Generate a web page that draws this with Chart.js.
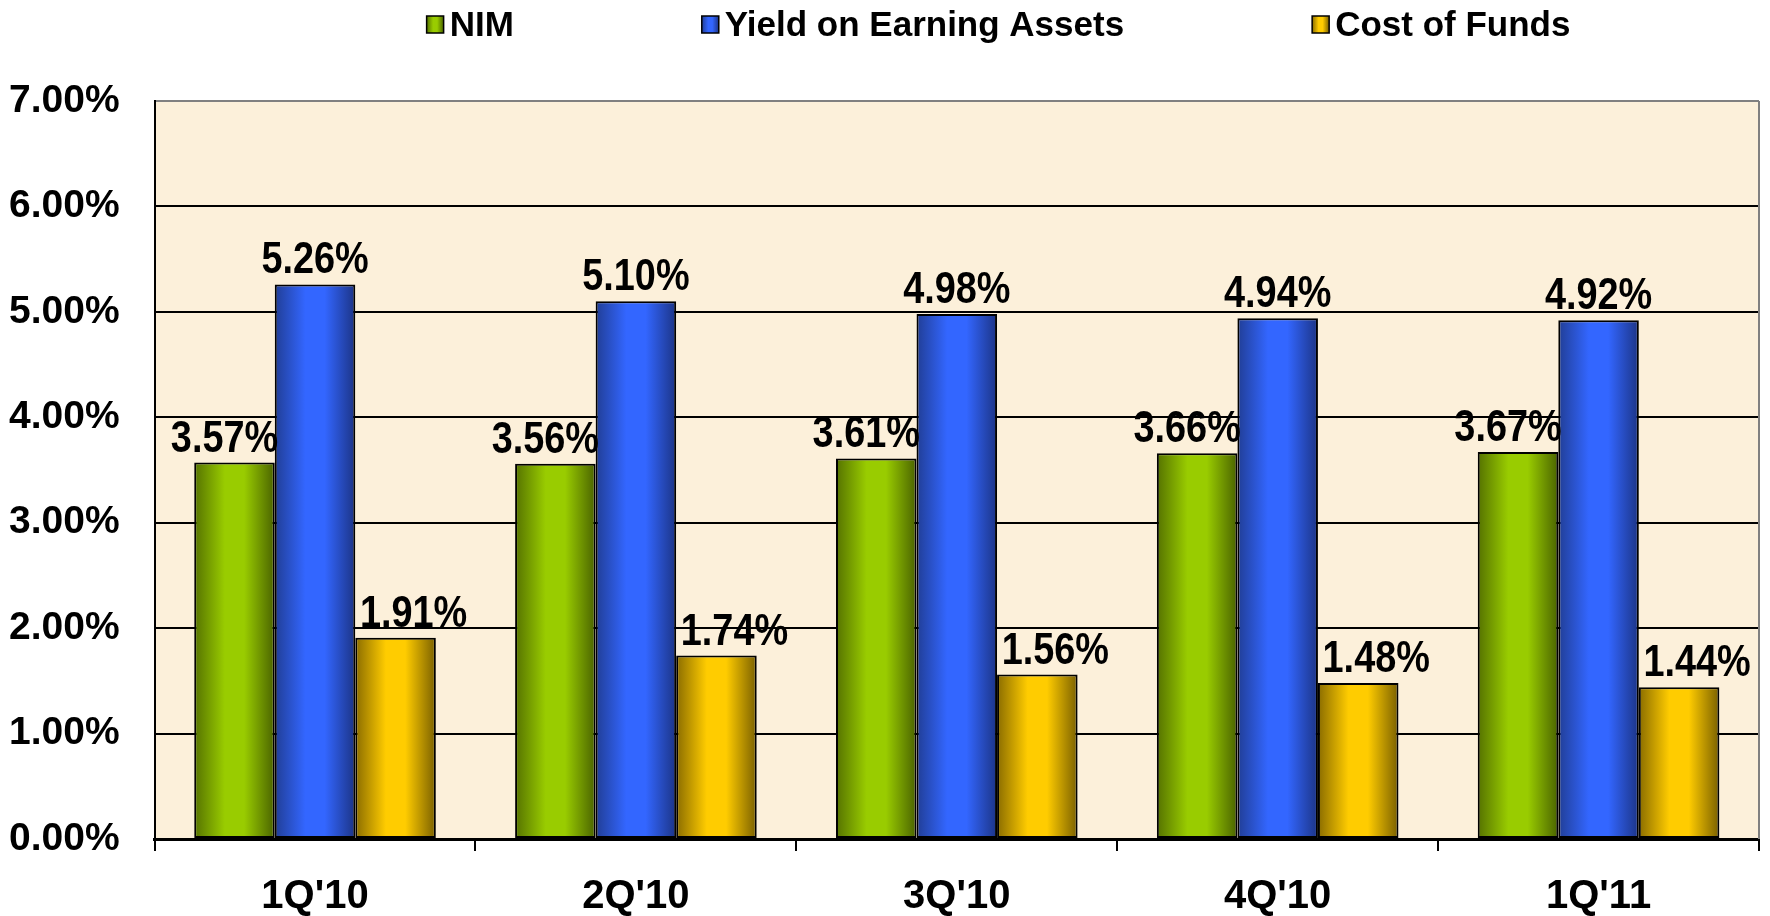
<!DOCTYPE html>
<html>
<head>
<meta charset="utf-8">
<script src="https://cdn.jsdelivr.net/npm/chart.js@4.4.1/dist/chart.umd.min.js"></script>
<style>
  html, body { margin: 0; padding: 0; background: #fff; }
  #wrap { width: 1770px; height: 916px; position: relative; }
</style>
</head>
<body>
<div id="wrap"><canvas id="myChart"></canvas></div>
<script>
const quarters = ["1Q'10", "2Q'10", "3Q'10", "4Q'10", "1Q'11"];
const nim = [3.57, 3.56, 3.61, 3.66, 3.67];
const yieldAssets = [5.26, 5.10, 4.98, 4.94, 4.92];
const costFunds = [1.91, 1.74, 1.56, 1.48, 1.44];
const seriesNames = ['NIM', 'Yield on Earning Assets', 'Cost of Funds'];

const FONT = "'Liberation Sans', Arial, sans-serif";

// bright / dark tones for the cylinder-like shading of each series
const shades = [
  { bright: '#99CC00', dark: '#4A6300', edge: '#557200' },
  { bright: '#3366FF', dark: '#1C3486', edge: '#213E96' },
  { bright: '#FFCC00', dark: '#7A6000', edge: '#8A6C00' },
];

function barGradient(ctx, x0, x1, s) {
  const g = ctx.createLinearGradient(x0, 0, x1, 0);
  g.addColorStop(0, s.edge);
  g.addColorStop(0.38, s.bright);
  g.addColorStop(0.62, s.bright);
  g.addColorStop(1, s.dark);
  return g;
}

// plot area background + right border
const plotBack = {
  id: 'plotBack',
  beforeDraw(chart) {
    const { ctx, chartArea: a } = chart;
    ctx.save();
    ctx.fillStyle = '#FCF0DA';
    ctx.fillRect(a.left, a.top, a.right - a.left, a.bottom - a.top);
    ctx.restore();
  },
  afterDraw(chart) {
    const { ctx, chartArea: a } = chart;
    ctx.save();
    ctx.strokeStyle = '#808080';
    ctx.lineWidth = 2;
    ctx.beginPath();
    ctx.moveTo(a.right, a.top);
    ctx.lineTo(a.right, a.bottom);
    ctx.stroke();
    ctx.restore();
  }
};

// horizontal shading on every bar
const shading = {
  id: 'shading',
  beforeDatasetsDraw(chart) {
    const ctx = chart.ctx;
    chart.data.datasets.forEach((ds, i) => {
      chart.getDatasetMeta(i).data.forEach(el => {
        const g = barGradient(ctx, el.x - el.width / 2, el.x + el.width / 2, shades[i]);
        el.options = Object.assign({}, el.options, { backgroundColor: g });
      });
    });
  }
};

// value labels above the bars
const valueLabels = {
  id: 'valueLabels',
  afterDatasetsDraw(chart, args, opts) {
    const ctx = chart.ctx;
    ctx.save();
    ctx.fillStyle = '#000';
    ctx.font = 'bold 44px ' + FONT;
    ctx.textAlign = 'center';
    ctx.textBaseline = 'alphabetic';
    chart.data.datasets.forEach((ds, i) => {
      chart.getDatasetMeta(i).data.forEach((el, j) => {
        ctx.save();
        ctx.translate(el.x + opts.shift[i], el.y - 11);
        ctx.scale(0.86, 1);
        ctx.fillText(ds.data[j].toFixed(2) + '%', 0, 0);
        ctx.restore();
      });
    });
    ctx.restore();
  }
};

// legend row at the top
const topLegend = {
  id: 'topLegend',
  afterDraw(chart) {
    const { ctx, chartArea: a } = chart;
    const box = 17, gapText = 6, gapItem = 188;
    ctx.save();
    ctx.font = 'bold 35px ' + FONT;
    ctx.textBaseline = 'alphabetic';
    ctx.textAlign = 'left';
    const widths = chart.data.datasets.map(ds => box + gapText + ctx.measureText(ds.label).width);
    const total = widths.reduce((s, w) => s + w, 0) + gapItem * (widths.length - 1);
    let x = a.left + a.width * 0.526 - total / 2;
    chart.data.datasets.forEach((ds, i) => {
      ctx.fillStyle = barGradient(ctx, x, x + box, shades[i]);
      ctx.fillRect(x, 16, box, box);
      ctx.strokeStyle = '#000';
      ctx.lineWidth = 1.5;
      ctx.strokeRect(x, 16, box, box);
      ctx.fillStyle = '#000';
      ctx.fillText(ds.label, x + box + gapText, 36);
      x += widths[i] + gapItem;
    });
    ctx.restore();
  }
};

const barStyle = { borderColor: '#000', borderWidth: 2, borderSkipped: false, backgroundColor: '#999' };

const data = {
  labels: quarters,
  datasets: [
    Object.assign({ label: seriesNames[0], data: nim }, barStyle),
    Object.assign({ label: seriesNames[1], data: yieldAssets }, barStyle),
    Object.assign({ label: seriesNames[2], data: costFunds }, barStyle),
  ],
};

const config = {
  type: 'bar',
  data,
  options: {
    responsive: true,
    maintainAspectRatio: false,
    animation: false,
    layout: { padding: { top: 101, left: 0, right: 11, bottom: 0 } },
    datasets: {
      bar: { categoryPercentage: 0.753, barPercentage: 1 },
    },
    plugins: {
      colors: { enabled: false },
      legend: { display: false },
      tooltip: { enabled: false },
      valueLabels: { shift: [-10, 0, 18] },
    },
    scales: {
      x: {
        afterFit: scale => { scale.height = 77; },
        grid: {
          offset: true,
          drawOnChartArea: false,
          drawTicks: true,
          tickLength: 12,
          color: '#000',
          lineWidth: 2,
        },
        border: { color: '#000', width: 3 },
        ticks: {
          color: '#000',
          padding: 35,
          font: { family: FONT, size: 40, weight: 'bold', lineHeight: 0.55 },
        },
      },
      y: {
        min: 0,
        max: 7,
        grid: {
          drawTicks: true,
          tickLength: 26,
          tickColor: 'rgba(0,0,0,0)',
          lineWidth: 2,
          color: c => (c.tick && c.tick.value === 7 ? '#808080' : '#000'),
        },
        border: { color: '#000', width: 2 },
        ticks: {
          stepSize: 1,
          color: '#000',
          padding: 9,
          font: { family: FONT, size: 39, weight: 'bold' },
          callback: v => v.toFixed(2) + '%',
        },
      },
    },
  },
  plugins: [plotBack, shading, valueLabels, topLegend],
};

var myChart = new Chart(document.getElementById('myChart'), config);
</script>
</body>
</html>
